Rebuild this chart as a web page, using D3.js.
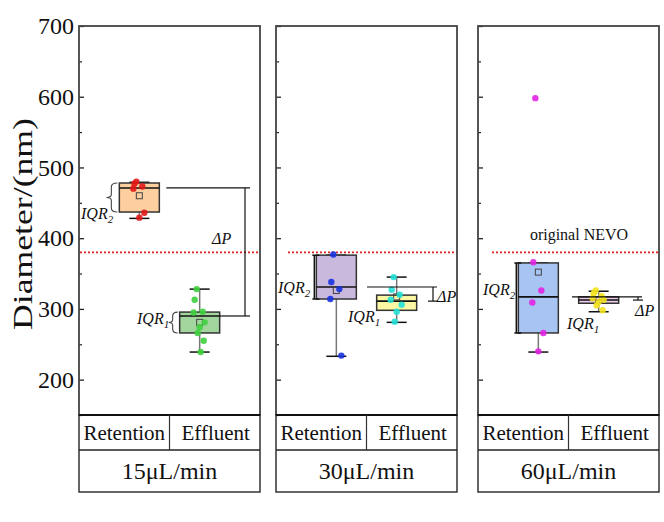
<!DOCTYPE html>
<html>
<head>
<meta charset="utf-8">
<script src="https://cdn.jsdelivr.net/npm/d3@7/dist/d3.min.js"></script>
<style>
  html, body { margin: 0; padding: 0; background: #ffffff; }
  svg text { font-family: "Liberation Serif", Tinos, "Times New Roman", serif; fill: #111; }
</style>
</head>
<body>
<svg id="chart" width="664" height="522"></svg>
<script>
// ---------------- data ----------------
const rates = ["15μL/min", "30μL/min", "60μL/min"];
const groups = ["Retention", "Effluent"];
const yTicks = [200, 300, 400, 500, 600, 700];
const yMinorTicks = [150, 250, 350, 450, 550, 650];

// box order: 15-Retention, 15-Effluent, 30-Retention, 30-Effluent, 60-Retention, 60-Effluent
const boxQ1        = [437, 266, 314, 298, 266, 308];
const boxMedian    = [471, 290, 331, 311, 317, 312.5];
const boxQ3        = [478, 295.5, 376, 319.5, 365, 317];
const whiskerLow   = [428, 239, 233, 281, 239, 296];
const whiskerHigh  = [479, 328, 376, 345, 365, 325];
const boxMean      = [460, 281, 326, 317, 352, 313];

const pts15R = [480, 477, 473, 470, 436, 429];
const pts15E = [328, 313, 296, 295, 281, 274, 266, 255, 239];
const pts30R = [377, 338, 328, 314, 234];
const pts30E = [345, 327, 320, 313, 306, 296, 282];
const pts60R = [598, 366, 326, 309, 266, 240];
const pts60E = [326, 322, 318, 315, 313, 310, 305, 298];
const referenceLine = 380;   // original NEVO diameter

// ---------------- styling ----------------
const boxFill   = ["#fdcf9f", "#a3d69e", "#c9b9dd", "#fbf7a2", "#a7c4f2", "#ebcbeb"];
const pointFill = ["#e01818", "#3fd13f", "#1a33e0", "#22e0d6", "#e324e3", "#f2e21c"];
const allPoints = [pts15R, pts15E, pts30R, pts30E, pts60R, pts60E];
const jitter = [-3, -5, 3, -6, 5, 0, -2, 4, 1];

const svg = d3.select("#chart");
const panelX = [79, 276, 478];
const panelW = 181;
const plotTop = 26, plotBottom = 415, row1 = 450, row2 = 492;

const y = d3.scaleLinear().domain([150, 700]).range([plotBottom, plotTop]);

const redLineRange = [[80, 260], [288, 457], [492, 659]];

function braceLeft(x, y1, y2, w) {
  const mid = (y1 + y2) / 2, q = 4, q2 = 3;
  return `M${x + w},${y1} Q${x},${y1} ${x},${y1 + q} L${x},${mid - q2} Q${x},${mid} ${x - w * 0.8},${mid} ` +
         `Q${x},${mid} ${x},${mid + q2} L${x},${y2 - q} Q${x},${y2} ${x + w},${y2}`;
}

function iqrLabel(g, x, yb, sub) {
  const t = g.append("text").attr("x", x).attr("y", yb)
    .attr("font-size", 16).attr("font-style", "italic").text("IQR");
  t.append("tspan").attr("dy", 4).attr("font-size", 11).text(sub);
}

rates.forEach((rate, p) => {
  const g = svg.append("g").attr("transform", `translate(${panelX[p]},0)`);
  const x = d3.scalePoint().domain(groups).range([0, panelW]).padding(1);
  const bw = 40, cw = 20;

  // y axis ticks (inward)
  const ax = d3.axisLeft(y).tickValues(yTicks).tickSize(-5).tickPadding(5)
    .tickFormat(p === 0 ? d3.format("d") : () => "");
  const axG = g.append("g").call(ax);
  axG.select(".domain").remove();
  axG.selectAll("line").attr("stroke", "#222").attr("stroke-width", 1.3);
  axG.selectAll("text").attr("font-size", 24).attr("fill", "#111")
    .style("font-family", '"Liberation Serif", Tinos, serif');
  const axm = d3.axisLeft(y).tickValues(yMinorTicks).tickSize(-3).tickFormat(() => "");
  const axmG = g.append("g").call(axm);
  axmG.select(".domain").remove();
  axmG.selectAll("line").attr("stroke", "#222").attr("stroke-width", 1.2);

  // reference dotted line
  g.append("line")
    .attr("x1", redLineRange[p][0] - panelX[p]).attr("x2", redLineRange[p][1] - panelX[p])
    .attr("y1", y(referenceLine)).attr("y2", y(referenceLine))
    .attr("stroke", "#e02020").attr("stroke-width", 1.6).attr("stroke-dasharray", "2,2");

  // boxes
  groups.forEach((grp, k) => {
    const i = p * 2 + k;
    const cx = x(grp);
    // whisker
    g.append("line").attr("x1", cx).attr("x2", cx)
      .attr("y1", y(whiskerLow[i])).attr("y2", y(whiskerHigh[i]))
      .attr("stroke", "#777").attr("stroke-width", 1.5);
    [whiskerLow[i], whiskerHigh[i]].forEach(v => {
      g.append("line").attr("x1", cx - cw / 2).attr("x2", cx + cw / 2)
        .attr("y1", y(v)).attr("y2", y(v)).attr("stroke", "#111").attr("stroke-width", 1.5);
    });
    g.append("rect").attr("x", cx - bw / 2).attr("width", bw)
      .attr("y", y(boxQ3[i])).attr("height", y(boxQ1[i]) - y(boxQ3[i]))
      .attr("fill", boxFill[i]).attr("stroke", "#333").attr("stroke-width", 1.5);
    g.append("line").attr("x1", cx - bw / 2).attr("x2", cx + bw / 2)
      .attr("y1", y(boxMedian[i])).attr("y2", y(boxMedian[i]))
      .attr("stroke", "#111").attr("stroke-width", 1.6);
    // mean marker (open square)
    g.append("rect").attr("x", cx - 3).attr("y", y(boxMean[i]) - 3).attr("width", 6).attr("height", 6)
      .attr("fill", "none").attr("stroke", "#444").attr("stroke-width", 1);
    // points
    g.selectAll(null).data(allPoints[i]).join("circle")
      .attr("cx", (d, j) => cx + jitter[j % jitter.length])
      .attr("cy", d => y(d))
      .attr("r", 3.2)
      .attr("fill", pointFill[i]).attr("fill-opacity", 0.9);
  });

  const rx = x("Retention"), ex = x("Effluent");
  const ann = "#111";
  if (p === 0) {
    // IQR braces
    g.append("path").attr("d", braceLeft(rx - bw / 2 - 8, y(boxQ3[0]), y(boxQ1[0]), 6))
      .attr("fill", "none").attr("stroke", "#444").attr("stroke-width", 1.1);
    g.append("path").attr("d", braceLeft(ex - bw / 2 - 7, y(boxQ3[1]), y(boxQ1[1]), 5))
      .attr("fill", "none").attr("stroke", "#444").attr("stroke-width", 1.1);
    iqrLabel(g, 2, 219, "2");
    iqrLabel(g, 58, 324, "1");
    // ΔP lines
    const lx = 166;
    g.append("line").attr("x1", rx + bw / 2 + 7).attr("x2", lx + 5)
      .attr("y1", y(boxMedian[0])).attr("y2", y(boxMedian[0])).attr("stroke", ann).attr("stroke-width", 1.2);
    g.append("line").attr("x1", ex + bw / 2).attr("x2", lx + 5)
      .attr("y1", y(boxMedian[1])).attr("y2", y(boxMedian[1])).attr("stroke", ann).attr("stroke-width", 1.2);
    g.append("line").attr("x1", lx).attr("x2", lx)
      .attr("y1", y(boxMedian[0])).attr("y2", y(boxMedian[1])).attr("stroke", ann).attr("stroke-width", 1.2);
    g.append("text").attr("x", 133).attr("y", 244).attr("font-size", 16).attr("font-style", "italic").text("ΔP");
  } else {
    const ri = p * 2, ei = p * 2 + 1;
    // bracket for IQR2
    const bx = rx - bw / 2 - 1;
    g.append("path").attr("d", `M${bx + 4},${y(boxQ3[ri])} L${bx - 3},${y(boxQ3[ri])} L${bx - 1},${y(boxQ3[ri])} L${bx - 1},${y(boxQ1[ri])} L${bx - 3},${y(boxQ1[ri])} L${bx + 4},${y(boxQ1[ri])}`)
      .attr("fill", "none").attr("stroke", "#111").attr("stroke-width", 1.5);
    const lx = p === 1 ? 157 : 160;
    const lstart = p === 1 ? 91 : 94;
    g.append("line").attr("x1", lstart).attr("x2", lx + 4)
      .attr("y1", y(boxMedian[ri])).attr("y2", y(boxMedian[ri])).attr("stroke", ann).attr("stroke-width", 1.2);
    g.append("line").attr("x1", lx).attr("x2", lx)
      .attr("y1", y(boxMedian[ri])).attr("y2", y(boxMedian[ei])).attr("stroke", ann).attr("stroke-width", 1.2);
    g.append("line").attr("x1", lx - 5).attr("x2", lx + 5)
      .attr("y1", y(boxMedian[ei])).attr("y2", y(boxMedian[ei])).attr("stroke", ann).attr("stroke-width", 1.2);
    if (p === 1) {
      iqrLabel(g, 2, 293, "2");
      iqrLabel(g, 72, 322, "1");
      g.append("text").attr("x", 161).attr("y", 302).attr("font-size", 16).attr("font-style", "italic").text("ΔP");
    } else {
      iqrLabel(g, 5, 295, "2");
      iqrLabel(g, 89, 329, "1");
      g.append("text").attr("x", 157).attr("y", 316).attr("font-size", 16).attr("font-style", "italic").text("ΔP");
      g.append("text").attr("x", 101).attr("y", 240).attr("font-size", 16).attr("text-anchor", "middle").text("original NEVO");
    }
  }

  // panel frame
  g.append("rect").attr("x", 0).attr("y", plotTop).attr("width", panelW).attr("height", plotBottom - plotTop)
    .attr("fill", "none").attr("stroke", "#444").attr("stroke-width", 1.8);
  // table below
  g.append("rect").attr("x", 0).attr("y", plotBottom).attr("width", panelW).attr("height", row2 - plotBottom)
    .attr("fill", "none").attr("stroke", "#333").attr("stroke-width", 1.5);
  g.append("line").attr("x1", 0).attr("x2", panelW).attr("y1", plotBottom).attr("y2", plotBottom)
    .attr("stroke", "#111").attr("stroke-width", 2.2);
  g.append("line").attr("x1", 0).attr("x2", panelW).attr("y1", row1).attr("y2", row1)
    .attr("stroke", "#222").attr("stroke-width", 1.5);
  g.append("line").attr("x1", panelW / 2).attr("x2", panelW / 2).attr("y1", plotBottom).attr("y2", row1)
    .attr("stroke", "#333").attr("stroke-width", 1.2);
  groups.forEach((grp, k) => {
    g.append("text").attr("x", panelW / 4 + k * panelW / 2 + (k === 0 ? 0 : 1)).attr("y", 440)
      .attr("text-anchor", "middle").attr("font-size", 21).text(grp);
  });
  g.append("text").attr("x", panelW / 2).attr("y", 479)
    .attr("text-anchor", "middle").attr("font-size", 24).text(rate);
});

// y-axis title
svg.append("text")
  .attr("transform", "translate(32,224) rotate(-90)")
  .attr("text-anchor", "middle").attr("font-size", 28)
  .attr("textLength", 212).attr("lengthAdjust", "spacingAndGlyphs")
  .text("Diameter/(nm)");
</script>
</body>
</html>
